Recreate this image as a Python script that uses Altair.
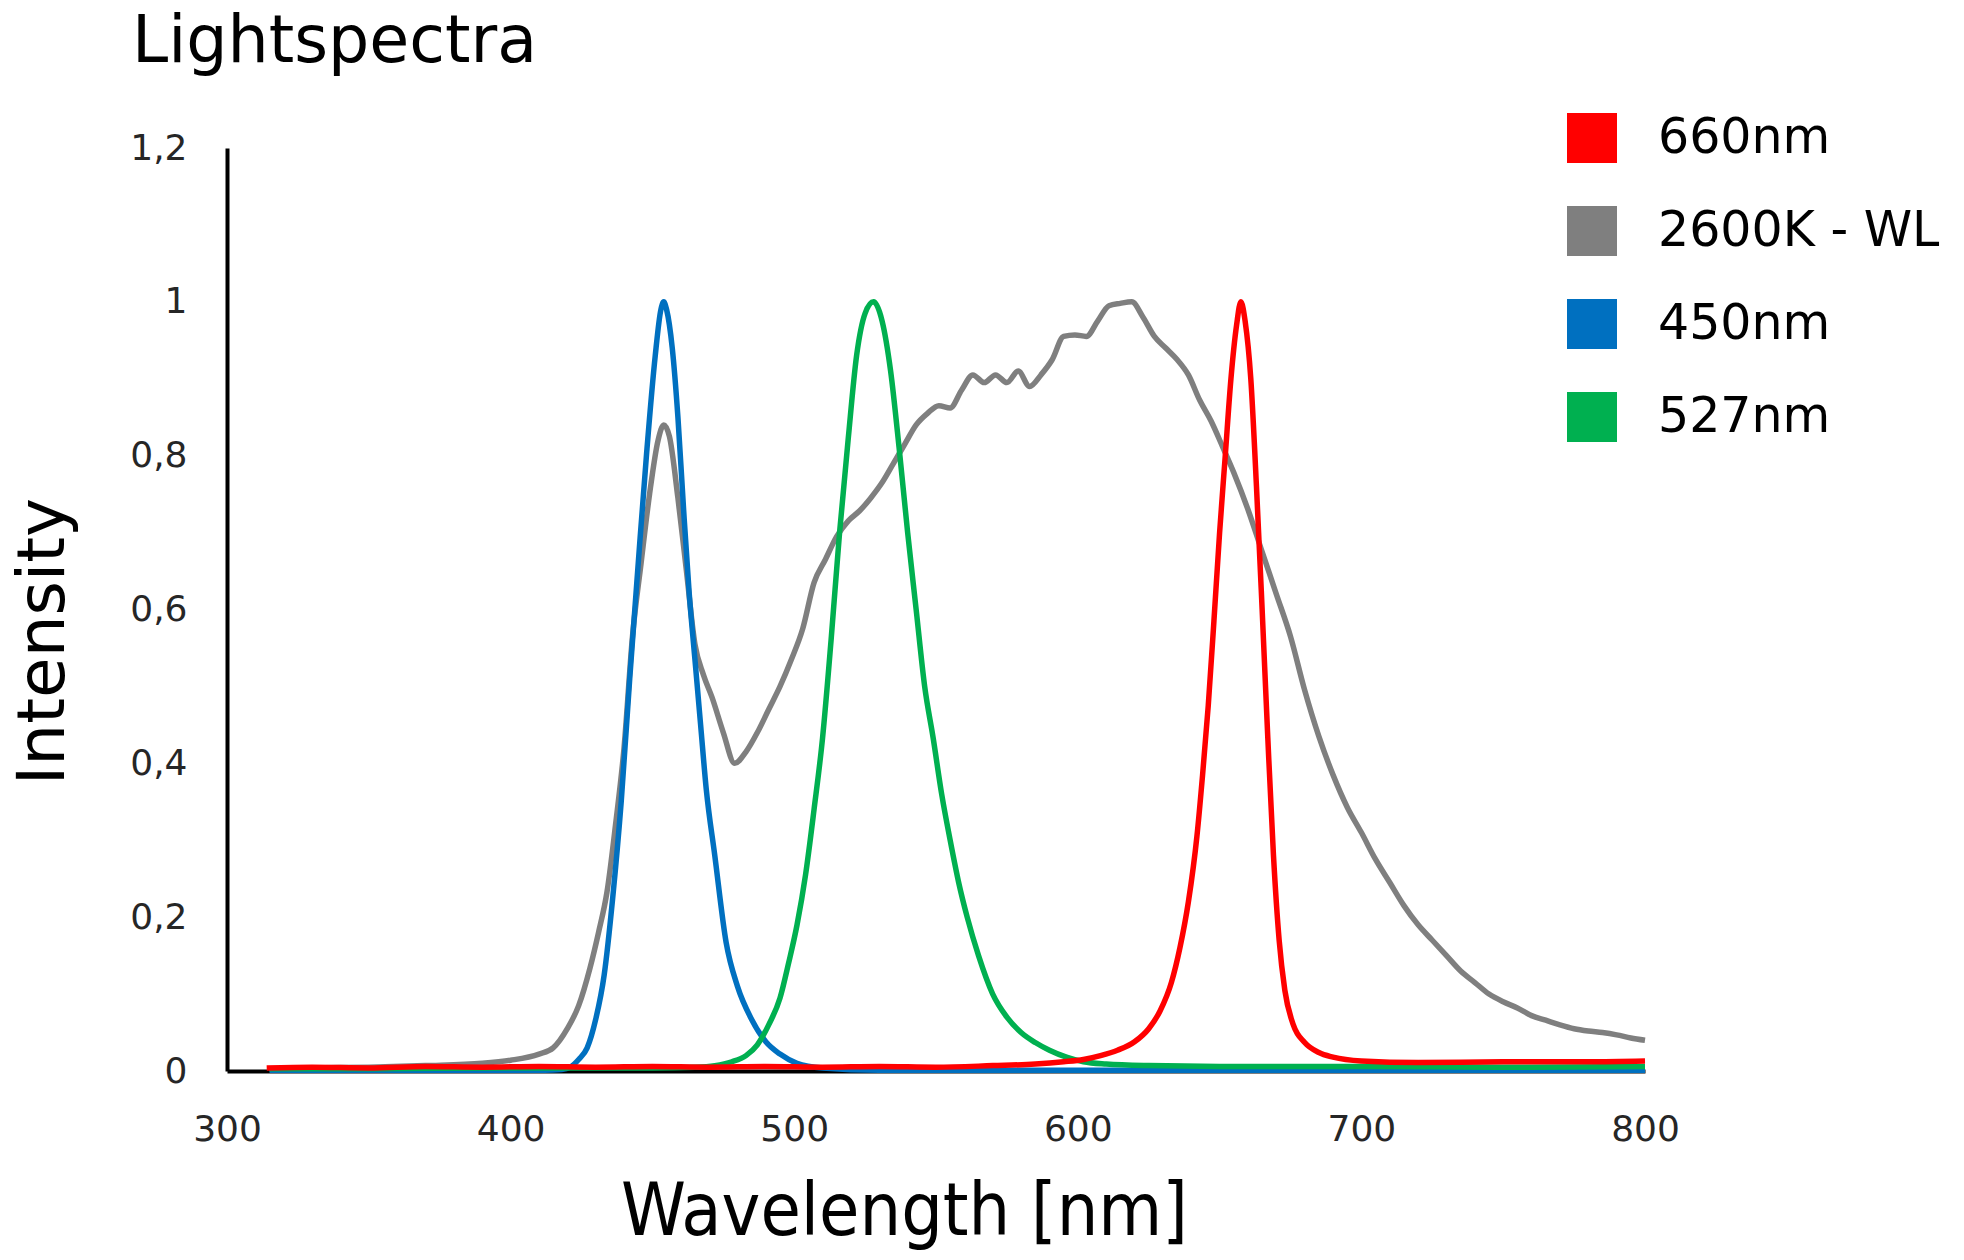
import altair as alt
import pandas as pd

# ---------------- data ----------------
series_names = ["660nm", "2600K - WL", "450nm", "527nm"]
series_colors = ["#FF0000", "#7F7F7F", "#0070C0", "#00B050"]
draw_order = ["2600K - WL", "450nm", "527nm", "660nm"]

x_ticks = [300, 400, 500, 600, 700, 800]
y_ticks = [0, 0.2, 0.4, 0.6, 0.8, 1.0, 1.2]

wl_gray = [315, 330, 350, 370, 390, 400, 410, 415, 420, 424, 428, 431, 434, 437,
           440, 443, 446, 449, 452, 454, 456, 459, 462, 465, 468, 471, 475, 479,
           483, 487, 491, 495, 499, 503, 507, 511, 515, 519, 523, 527, 531, 535,
           539, 543, 547, 551, 555, 559, 563, 567, 571, 575, 579, 583, 587, 591,
           595, 599, 603, 607, 611, 615, 619, 623, 627, 631, 635, 639, 643, 647,
           651, 655, 660, 665, 670, 675, 680, 685, 690, 695, 700, 705, 710, 715,
           720, 725, 730, 735, 740, 745, 750, 755, 760, 765, 770, 775, 780, 785,
           790, 795, 800]
int_gray = [0.003, 0.004, 0.005, 0.007, 0.010, 0.014, 0.022, 0.030, 0.055, 0.085,
            0.134, 0.180, 0.233, 0.320, 0.420, 0.566, 0.660, 0.750, 0.820, 0.840,
            0.825, 0.745, 0.650, 0.555, 0.515, 0.486, 0.440, 0.400, 0.415, 0.440,
            0.470, 0.500, 0.535, 0.575, 0.635, 0.665, 0.695, 0.715, 0.728, 0.745,
            0.765, 0.790, 0.815, 0.840, 0.855, 0.865, 0.862, 0.885, 0.905, 0.895,
            0.905, 0.895, 0.910, 0.890, 0.905, 0.925, 0.955, 0.957, 0.955, 0.975,
            0.995, 0.998, 1.000, 0.980, 0.955, 0.940, 0.925, 0.905, 0.872, 0.845,
            0.812, 0.778, 0.730, 0.675, 0.620, 0.565, 0.495, 0.435, 0.385, 0.343,
            0.310, 0.275, 0.245, 0.215, 0.190, 0.170, 0.150, 0.130, 0.115, 0.100,
            0.090, 0.082, 0.072, 0.066, 0.060, 0.055, 0.052, 0.050, 0.047, 0.043,
            0.040]

wl_blue = [315, 350, 400, 412, 418, 421, 424, 427, 430, 433, 436, 439, 442, 445,
           448, 451, 453, 454, 455, 457, 459, 461, 463, 465, 467, 469, 472, 476,
           480, 485, 490, 495, 501, 510, 530, 600, 700, 800]
int_blue = [0.001, 0.001, 0.001, 0.001, 0.002, 0.005, 0.015, 0.030, 0.067, 0.125,
            0.225, 0.350, 0.510, 0.660, 0.805, 0.930, 0.990, 1.000, 0.990, 0.940,
            0.850, 0.730, 0.620, 0.535, 0.450, 0.366, 0.280, 0.167, 0.110, 0.067,
            0.038, 0.022, 0.010, 0.004, 0.001, 0.001, 0.001, 0.001]

wl_green = [315, 350, 400, 450, 465, 472, 478, 483, 487, 491, 495, 498, 501, 504,
            507, 510, 513, 516, 519, 522, 525, 528, 531, 534, 537, 540, 543, 546,
            549, 552, 555, 558, 561, 565, 570, 575, 580, 585, 590, 596, 602, 610,
            625, 650, 700, 750, 800]
int_green = [0.003, 0.003, 0.004, 0.004, 0.005, 0.007, 0.012, 0.020, 0.034, 0.060,
             0.095, 0.140, 0.190, 0.255, 0.340, 0.433, 0.560, 0.700, 0.820, 0.930,
             0.985, 1.000, 0.975, 0.910, 0.810, 0.700, 0.600, 0.500, 0.433, 0.360,
             0.300, 0.245, 0.200, 0.150, 0.100, 0.070, 0.050, 0.037, 0.027, 0.018,
             0.012, 0.009, 0.007, 0.006, 0.006, 0.005, 0.006]

wl_red = [314, 330, 350, 370, 390, 410, 430, 450, 470, 490, 510, 530, 550, 570,
          585, 595, 602, 608, 614, 620, 625, 629, 633, 636, 639, 642, 644, 646,
          648, 650, 652, 654, 656, 657.5, 659, 661, 663, 665, 667, 669, 671, 673,
          676, 680, 685, 690, 700, 720, 750, 780, 800]
int_red = [0.004, 0.005, 0.004, 0.006, 0.005, 0.006, 0.005, 0.006, 0.005, 0.006,
           0.005, 0.006, 0.005, 0.007, 0.009, 0.012, 0.015, 0.020, 0.027, 0.038,
           0.055, 0.078, 0.115, 0.160, 0.220, 0.305, 0.385, 0.475, 0.585, 0.700,
           0.800, 0.900, 0.970, 1.000, 0.975, 0.900, 0.760, 0.600, 0.433, 0.280,
           0.170, 0.105, 0.060, 0.037, 0.024, 0.018, 0.013, 0.011, 0.012, 0.012,
           0.013]

series_data = {
    "2600K - WL": (wl_gray, int_gray),
    "450nm": (wl_blue, int_blue),
    "527nm": (wl_green, int_green),
    "660nm": (wl_red, int_red),
}

rows = []
for name in draw_order:
    wls, vals = series_data[name]
    for w, v in zip(wls, vals):
        rows.append({"series": name, "wl": w, "val": v})
df = pd.DataFrame(rows)

FONT = "DejaVu Sans"
XFONT = "DejaVu Sans Condensed, DejaVu Sans"

chart = alt.Chart(df).mark_line(strokeWidth=5.5, interpolate="monotone").encode(
    x=alt.X(
        "wl:Q",
        scale=alt.Scale(domain=[300, 800], nice=False, zero=False),
        axis=alt.Axis(
            values=x_ticks, title="Wavelength [nm]", grid=False, ticks=False,
            domainColor="#000000", domainWidth=4, labelFlush=False, labelOverlap=False,
            labelFont=FONT, labelFontSize=36, labelColor="#262626", labelPadding=41,
            titleFont=XFONT, titleFontSize=73, titleFontWeight="normal", titleColor="#000000",
            titleX=677, titleY=163, titleBaseline="alphabetic", titleAlign="center",
        ),
    ),
    y=alt.Y(
        "val:Q",
        scale=alt.Scale(domain=[0, 1.2], nice=False),
        axis=alt.Axis(
            values=y_ticks, title="Intensity", grid=False, ticks=False,
            format=".1~f", labelExpr="replace(datum.label, '.', ',')",
            domainColor="#000000", domainWidth=4, labelFlush=False, labelOverlap=False,
            labelFont=FONT, labelFontSize=36, labelColor="#262626", labelPadding=40,
            titleFont=FONT, titleFontSize=66, titleFontWeight="normal", titleColor="#000000",
            titleX=-164, titleY=493, titleBaseline="alphabetic", titleAlign="center",
            titleAngle=270,
        ),
    ),
    color=alt.Color(
        "series:N",
        scale=alt.Scale(domain=series_names, range=series_colors),
        legend=alt.Legend(
            title=None, orient="none", legendX=1340, legendY=-35, padding=0,
            symbolType="square", symbolSize=2500, symbolStrokeWidth=0,
            symbolFillColor=alt.ExprRef(expr="scale('color', datum.value)"),
            labelFont=FONT, labelFontSize=49, labelColor="#000000",
            labelOffset=41, rowPadding=43, labelLimit=500,
        ),
    ),
).properties(
    width=1418,
    height=923,
    background="white",
    autosize=alt.AutoSizeParams(type="none"),
    padding={"left": 219, "top": 140, "right": 311, "bottom": 181},
    title=alt.TitleParams(
        "Lightspectra", anchor="start", frame="group", font=FONT, fontSize=65,
        fontWeight="normal", color="#000000", dx=-95, offset=-14, baseline="alphabetic",
    ),
).configure_view(stroke=None)

chart.save("out.html", embed_options={"renderer": "svg", "actions": False})
